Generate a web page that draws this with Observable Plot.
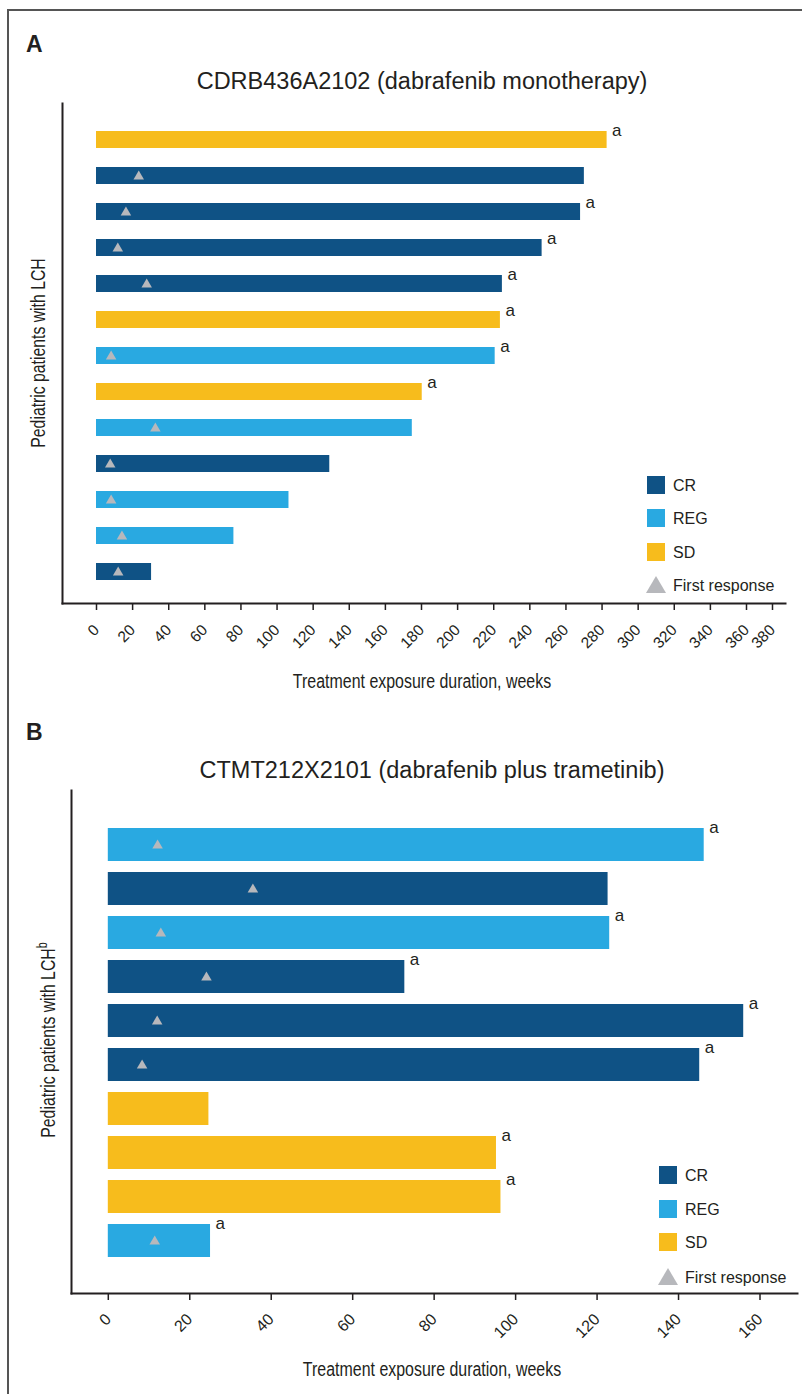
<!DOCTYPE html>
<html>
<head>
<meta charset="utf-8">
<script src="https://cdn.jsdelivr.net/npm/d3@7"></script>
<script src="https://cdn.jsdelivr.net/npm/@observablehq/plot@0.6"></script>
<style>
  html, body { margin: 0; padding: 0; background: #fff; }
  #page { position: relative; width: 802px; height: 1394px; overflow: hidden; background: #fff; }
  #page > svg, #page > div { position: absolute; }
</style>
</head>
<body>
<div id="page"></div>
<script>
// ---------- shared ----------
const responseCategories = ["CR", "REG", "SD"];
const responseColors = ["#0f5285", "#29a9e1", "#f7bc1c"];
const firstResponseColor = "#b7b8bc";
const legendLabels = ["CR", "REG", "SD", "First response"];
const axisTitle = "Treatment exposure duration, weeks";

// ---------- panel A : CDRB436A2102 ----------
const titleA = "CDRB436A2102 (dabrafenib monotherapy)";
const patientsA = ["A1","A2","A3","A4","A5","A6","A7","A8","A9","A10","A11","A12","A13"];
const responseA = ["SD","CR","CR","CR","CR","SD","REG","SD","REG","CR","REG","REG","CR"];
const weeksA = [282.8, 270.2, 268.1, 246.8, 224.8, 223.7, 220.8, 180.4, 174.9, 129.2, 106.6, 76.1, 30.5];
const firstResponseA = [null, 23.4, 16.3, 11.8, 27.8, null, 8.1, null, 32.6, 7.6, 8.1, 14.1, 12.0];
const ongoingA = [true, false, true, true, true, true, true, true, false, false, false, false, false];
const ticksA = [0,20,40,60,80,100,120,140,160,180,200,220,240,260,280,300,320,340,360,380];

// ---------- panel B : CTMT212X2101 ----------
const titleB = "CTMT212X2101 (dabrafenib plus trametinib)";
const patientsB = ["B1","B2","B3","B4","B5","B6","B7","B8","B9","B10"];
const responseB = ["REG","CR","REG","CR","CR","CR","SD","SD","SD","REG"];
const weeksB = [146.3, 122.7, 123.1, 72.8, 156.0, 145.2, 24.7, 95.3, 96.4, 25.1];
const firstResponseB = [12.1, 35.5, 12.9, 24.1, 12.0, 8.3, null, null, null, 11.4];
const ongoingB = [true, false, true, true, true, true, false, true, true, true];
const ticksB = [0,20,40,60,80,100,120,140,160];

const ink = "#231f20";
const regular = "'Liberation Sans',Arial,sans-serif";

function rows(ids, resp, wk, fr, og) {
  return ids.map((id, i) => ({id, response: resp[i], weeks: wk[i], first: fr[i], ongoing: og[i]}));
}
const dataA = rows(patientsA, responseA, weeksA, firstResponseA, ongoingA);
const dataB = rows(patientsB, responseB, weeksB, firstResponseB, ongoingB);

function panel(data, ids, opts) {
  return Plot.plot({
    width: 802,
    height: opts.height,
    marginTop: opts.marginTop,
    marginBottom: opts.marginBottom,
    marginLeft: opts.marginLeft,
    marginRight: opts.marginRight,
    style: {background: "transparent", fontFamily: regular, color: ink, overflow: "visible"},
    x: {type: "linear", domain: opts.xDomain, range: opts.xRange},
    y: {domain: ids, range: opts.yRange, paddingInner: opts.pad, paddingOuter: 0, axis: null},
    color: {domain: responseCategories, range: responseColors},
    marks: [
      Plot.barX(data, {x: "weeks", y: "id", fill: "response"}),
      Plot.dot(data.filter(d => d.first != null), {
        x: "first", y: "id", symbol: "triangle", r: 3.9, fill: firstResponseColor, stroke: "none", dy: 0.5
      }),
      Plot.text(data.filter(d => d.ongoing), {
        x: "weeks", y: "id", text: () => "a", dx: 5, dy: opts.aDy,
        textAnchor: "start", lineAnchor: "bottom", fontSize: 17, fill: ink
      }),
      Plot.frame({anchor: "left", stroke: ink, strokeWidth: 2}),
      Plot.frame({anchor: "bottom", stroke: ink, strokeWidth: 2}),
      Plot.axisX({
        ticks: opts.ticks, tickFormat: d => String(d), tickSize: 7, tickRotate: -45,
        tickPadding: opts.tickPadding, fontSize: opts.tickFont, label: null, stroke: ink, strokeWidth: 1.5
      })
    ]
  });
}

const page = document.getElementById("page");

// frame border
const border = document.createElement("div");
Object.assign(border.style, {left: "7px", top: "9px", width: "820px", height: "1420px",
  borderLeft: "2px solid #555", borderTop: "2px solid #555"});
page.appendChild(border);

const plotA = panel(dataA, patientsA, {
  height: 700, marginTop: 103, marginBottom: 97, marginLeft: 62, marginRight: 17,
  xDomain: [0, 360, 380], xRange: [96, 746, 772],
  yRange: [127.5, 583.5], pad: 0.535, aDy: -4.5, ticks: ticksA, tickPadding: 17, tickFont: 15.5
});
plotA.style.left = "0px"; plotA.style.top = "0px";
page.appendChild(plotA);

const plotB = panel(dataB, patientsB, {
  height: 694, marginTop: 90, marginBottom: 101, marginLeft: 71, marginRight: 5,
  xDomain: [0, 160], xRange: [107.8, 759.5],
  yRange: [124.15, 561.0], pad: 0.248, aDy: -12, ticks: ticksB, tickPadding: 16, tickFont: 16
});
plotB.style.left = "0px"; plotB.style.top = "700px";
page.appendChild(plotB);

// overlay for titles, axis titles and legends
const svg = d3.select(page).append("svg")
  .attr("width", 802).attr("height", 1394)
  .style("left", "0px").style("top", "0px")
  .style("pointer-events", "none");

function txt(x, y, s, o = {}) {
  const sx = o.squeeze || 1;
  const rot = o.rotate || 0;
  return svg.append("text")
    .attr("transform", `translate(${x},${y}) rotate(${rot}) scale(${sx},1)`)
    .text(s)
    .attr("font-family", regular).attr("font-size", o.size || 16)
    .attr("font-weight", o.weight || "normal").attr("text-anchor", o.anchor || "start")
    .attr("fill", ink);
}

// panel letters and titles
txt(26, 52, "A", {size: 23, weight: "bold"});
txt(422, 89, titleA, {size: 23.5, anchor: "middle"});
txt(26, 740, "B", {size: 23, weight: "bold"});
txt(432, 778, titleB, {size: 23.5, anchor: "middle"});

// axis titles (condensed lettering)
txt(422, 688, axisTitle, {size: 21, anchor: "middle", squeeze: 0.76});
txt(432, 1376, axisTitle, {size: 21, anchor: "middle", squeeze: 0.76});

// y axis titles
txt(45, 353, "Pediatric patients with LCH", {size: 20.5, anchor: "middle", rotate: -90, squeeze: 0.77});
const yB = txt(55, 1040, "", {size: 20.5, anchor: "middle", rotate: -90, squeeze: 0.77});
yB.append("tspan").text("Pediatric patients with LCH");
yB.append("tspan").attr("font-size", 14).attr("dy", -8).text("b");

// legends
function legend(x, ys) {
  responseCategories.forEach((c, i) => {
    svg.append("rect").attr("x", x).attr("y", ys[i] - 9).attr("width", 18).attr("height", 18)
      .attr("fill", responseColors[i]);
    txt(x + 26, ys[i] + 6, legendLabels[i], {size: 16});
  });
  const ty = ys[3];
  svg.append("path").attr("d", `M${x + 9},${ty - 9} L${x + 19},${ty + 8} L${x - 1},${ty + 8} Z`)
    .attr("fill", firstResponseColor);
  txt(x + 26, ty + 6, legendLabels[3], {size: 16});
}
legend(647, [485, 518, 552, 585]);
legend(659, [1175, 1209, 1242, 1277]);
</script>
</body>
</html>
